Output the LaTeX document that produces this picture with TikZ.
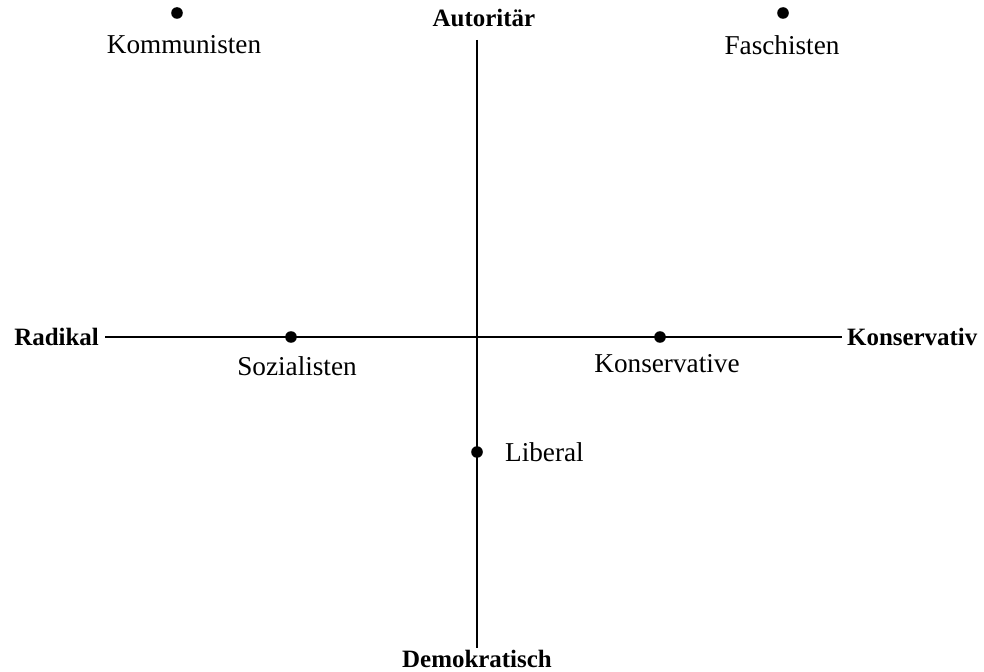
\documentclass[tikz,border=0pt]{standalone}
\usepackage{fontspec}
\setmainfont{Liberation Serif}

\begin{document}
\begin{tikzpicture}[x=0.02cm, y=-0.02cm, font=\fontsize{15.5}{18}\selectfont,
    axis/.style={line width=1pt},
    dot/.style={circle, fill, inner sep=0pt, minimum size=6.6pt},
    lbl/.style={inner sep=1pt},
    pole/.style={inner sep=1pt, font=\fontsize{14.2}{18}\selectfont\bfseries}]
  \useasboundingbox (0,0) rectangle (984,672);
  % axes
  \coordinate (west) at (105,337);
  \coordinate (east) at (842,337);
  \coordinate (north) at (477,40);
  \coordinate (south) at (477,648);
  \draw[axis] (west) -- (east);
  \draw[axis] (north) -- (south);
  \node[pole, left] (radikal) at (101,337) {Radikal};
  \node[pole, right] (konservativ) at (845,337) {Konservativ};
  \node[pole] (autoritaer) at (484,18) {Autoritär};
  \node[pole] (demokratisch) at (477,659) {Demokratisch};
  % parties
  \node[dot] (kdot) at (177,13) {};
  \node[dot] (fdot) at (783,13) {};
  \node[dot] (sdot) at (291,337) {};
  \node[dot] (cdot) at (660,337) {};
  \node[dot] (ldot) at (477,452) {};
  \node[lbl] (kommunisten) at (184,45) {Kommunisten};
  \node[lbl] (faschisten) at (782,45) {Faschisten};
  \node[lbl] (sozialisten) at (297,366) {Sozialisten};
  \node[lbl] (konservative) at (667,364) {Konservative};
  \node[lbl, right] (liberal) at (503,452) {Liberal};
\end{tikzpicture}
\end{document}
